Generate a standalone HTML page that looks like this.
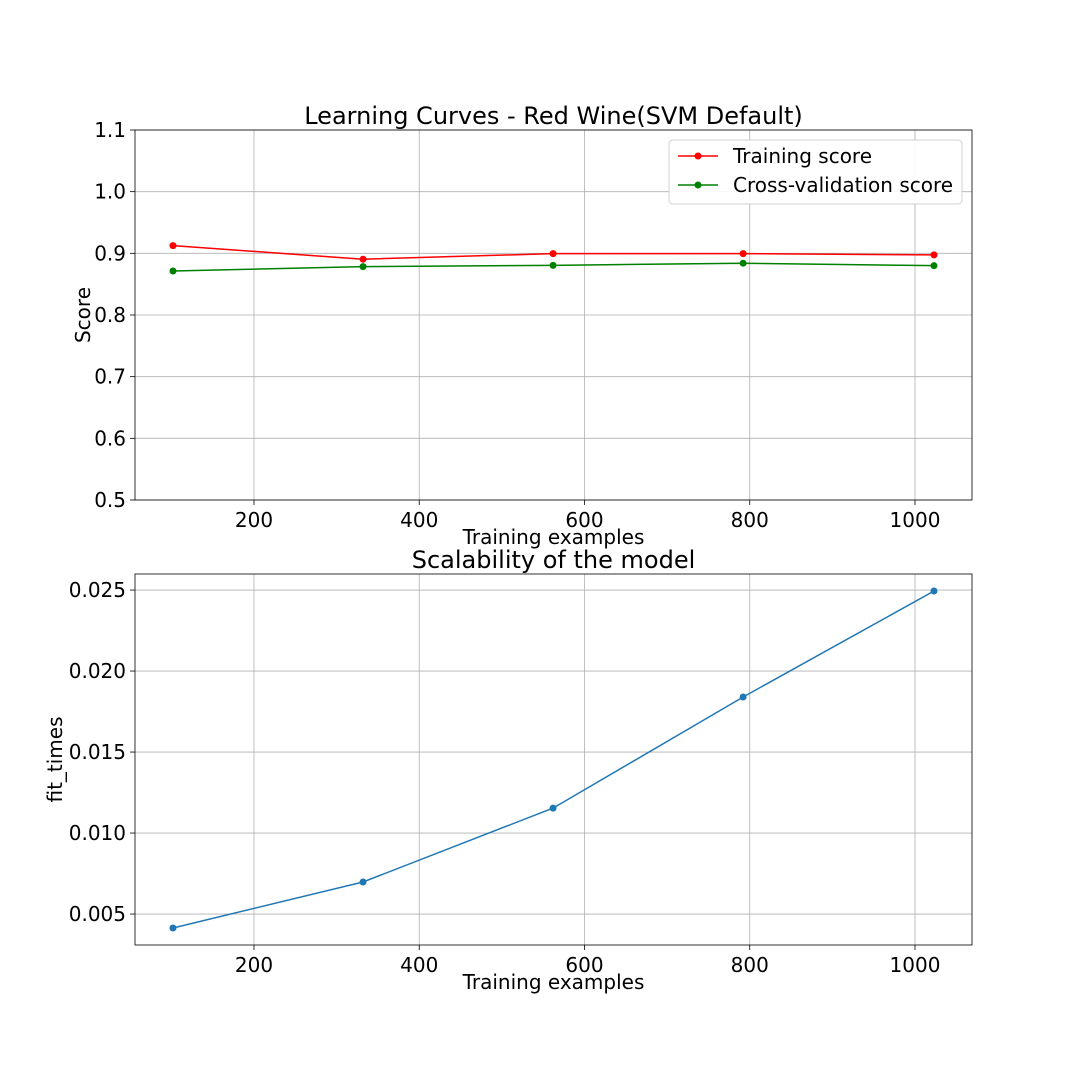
<!DOCTYPE html>
<html><head><meta charset="utf-8"><style>
body{margin:0;background:#fff;}
svg text{font-family:"DejaVu Sans","Liberation Sans",sans-serif;fill:#000;}
</style></head><body>
<svg id="chart" width="1080" height="1080" xmlns="http://www.w3.org/2000/svg">
<rect width="1080" height="1080" fill="#fff"/>
<g id="topPanel"></g>
<g id="botPanel"></g>
</svg>
<script>
const trainSizes=[102,332,562,792,1023];
const trainScores=[0.9125,0.8905,0.8995,0.8995,0.8975];
const cvScores=[0.8713,0.8785,0.8805,0.8840,0.8800];
const fitTimes=[0.00414,0.00698,0.01154,0.01840,0.02494];
const xTicks=[200,400,600,800,1000];
const scoreTicks=[0.5,0.6,0.7,0.8,0.9,1.0,1.1];
const fitTicks=[0.005,0.010,0.015,0.020,0.025];

const NS="http://www.w3.org/2000/svg";
function el(parent,tag,attrs){const e=document.createElementNS(NS,tag);for(const k in attrs)e.setAttribute(k,attrs[k]);parent.appendChild(e);return e;}
function txt(parent,x,y,s,size,anchor,extra){const t=el(parent,'text',Object.assign({x:x,y:y,'font-size':size,'text-anchor':anchor},extra||{}));t.textContent=s;return t;}

function panel(g,L,T,R,B,xmin,xmax,ymin,ymax,yTicks,yFmt,title,ylabel,ylx){
  const X=v=>L+(v-xmin)/(xmax-xmin)*(R-L);
  const Y=v=>B-(v-ymin)/(ymax-ymin)*(B-T);
  xTicks.forEach(v=>{
    const l=el(g,'line',{x1:X(v),x2:X(v),y1:T,y2:B,stroke:'#b0b0b0','stroke-width':0.8});
    
    
    el(g,'line',{x1:X(v),x2:X(v),y1:B,y2:B+5,stroke:'#000','stroke-width':0.8});
    const t=txt(g,X(v),B+27,String(v),20,'middle');
    
    
  });
  yTicks.forEach(v=>{
    const l=el(g,'line',{x1:L,x2:R,y1:Y(v),y2:Y(v),stroke:'#b0b0b0','stroke-width':0.8});
    
    
    el(g,'line',{x1:L-5,x2:L,y1:Y(v),y2:Y(v),stroke:'#000','stroke-width':0.8});
    const t=txt(g,L-9,Y(v)+7,yFmt(v),20,'end');
    
    
  });
  const f=el(g,'rect',{x:L,y:T,width:R-L,height:B-T,fill:'none',stroke:'#000','stroke-width':0.8});
  
  
  const tt=txt(g,(L+R)/2,T-6,title,24,'middle');
  
  
  const xl=txt(g,(L+R)/2,B+44,'Training examples',20,'middle');
  
  
  const yy=(T+B)/2;
  const yl=txt(g,ylx,yy,ylabel,20,'middle',{transform:`rotate(-90 ${ylx} ${yy})`});
  
  
  return {X,Y};
}
function series(g,a,xs,ys,color,name){
  const pl=el(g,'polyline',{points:xs.map((x,i)=>a.X(x)+','+a.Y(ys[i])).join(' '),fill:'none',stroke:color,'stroke-width':1.5});
  
  
  xs.forEach((x,i)=>{
    const c=el(g,'circle',{cx:a.X(x),cy:a.Y(ys[i]),r:3.5,fill:color});
    
    
  });
}
const topG=document.getElementById('topPanel');
const a1=panel(topG,135,130,972,500,56,1069,0.5,1.1,scoreTicks,v=>v.toFixed(1),'Learning Curves - Red Wine(SVM Default)','Score',90);
series(topG,a1,trainSizes,trainScores,'#ff0000','training-score');
series(topG,a1,trainSizes,cvScores,'#008000','cv-score');
const lg=el(topG,'g',{});


el(lg,'rect',{x:669,y:140,width:293,height:64,rx:4,fill:'#fff',stroke:'#ccc','stroke-width':1,opacity:0.9});
[['Training score','#ff0000',156],['Cross-validation score','#008000',185]].forEach(([s,c,y])=>{
  el(lg,'line',{x1:678,x2:718,y1:y,y2:y,stroke:c,'stroke-width':1.5});
  el(lg,'circle',{cx:698,cy:y,r:3.5,fill:c});
  const t=txt(lg,733,y+7,s,20,'start');
  
  
});
const botG=document.getElementById('botPanel');
const a2=panel(botG,135,574,972,945,56,1069,0.00309,0.02599,fitTicks,v=>v.toFixed(3),'Scalability of the model','fit_times',62);
series(botG,a2,trainSizes,fitTimes,'#1f77b4','fit-times');
</script>
</body></html>
